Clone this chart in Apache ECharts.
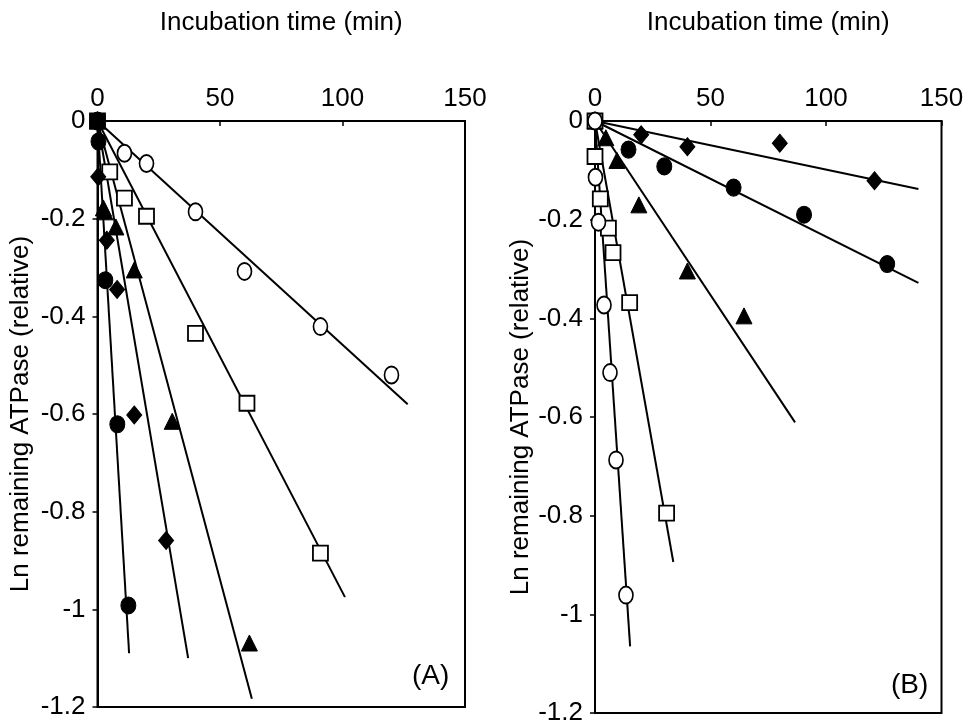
<!DOCTYPE html>
<html><head><meta charset="utf-8">
<script src="https://cdn.jsdelivr.net/npm/echarts@6/dist/echarts.min.js"></script>
<style>html,body{margin:0;padding:0;background:#fff}#c{width:973px;height:726px}</style>
</head><body><div id="c"></div>
<script>
// ---------- Panel A data (time in min, Ln remaining ATPase) ----------
const xTicks = [0, 50, 100, 150];
const yTicks = [0, -0.2, -0.4, -0.6, -0.8, -1, -1.2];

const tA_openCircle = [0, 11, 20, 40, 60, 91, 120];
const yA_openCircle = [0, -0.066, -0.087, -0.186, -0.308, -0.421, -0.52];
const fitA_openCircle = [[0, 0], [126.6, -0.58]];

const tA_openSquare = [0, 5, 11, 20, 40, 61, 91];
const yA_openSquare = [0, -0.104, -0.158, -0.195, -0.435, -0.578, -0.885];
const fitA_openSquare = [[0, 0], [101, -0.975]];

const tA_triangle = [0, 2.4, 3, 7.5, 15, 30.5, 62];
const yA_triangle = [0, -0.178, -0.186, -0.217, -0.305, -0.615, -1.069];
const fitA_triangle = [[0, 0], [63, -1.183]];

const tA_diamond = [0, 0.3, 3.8, 8, 15, 28];
const yA_diamond = [0, -0.114, -0.244, -0.345, -0.602, -0.859];
const fitA_diamond = [[0, 0], [37, -1.1]];

const tA_filledCircle = [0, 0.4, 3.2, 8.1, 12.6];
const yA_filledCircle = [0, -0.042, -0.326, -0.621, -0.992];
const fitA_filledCircle = [[0, 0], [12.9, -1.09]];

const tA_origin = [0];
const yA_origin = [0];

// ---------- Panel B data ----------
const tB_diamond = [0, 20, 40, 80, 121];
const yB_diamond = [0, -0.028, -0.052, -0.045, -0.121];
const fitB_diamond = [[0, 0], [140, -0.138]];

const tB_filledCircle = [0, 14.5, 30, 60, 90.5, 126.5];
const yB_filledCircle = [0, -0.058, -0.092, -0.135, -0.19, -0.29];
const fitB_filledCircle = [[0, 0], [140, -0.328]];

const tB_triangle = [0, 4.7, 9.5, 19, 40, 64.5];
const yB_triangle = [0, -0.034, -0.08, -0.17, -0.304, -0.395];
const fitB_triangle = [[0, 0], [86.6, -0.611]];

const tB_openSquare = [0, 0, 2.3, 5.8, 7.8, 15, 31];
const yB_openSquare = [0, -0.072, -0.158, -0.217, -0.267, -0.368, -0.795];
const fitB_openSquare = [[0, 0], [33.9, -0.894]];

const tB_openCircle = [0, 0.2, 1.5, 3.9, 6.5, 9.1, 13.4];
const yB_openCircle = [0, -0.114, -0.205, -0.373, -0.51, -0.687, -0.961];
const fitB_openCircle = [[0, 0], [15.2, -1.065]];

// ---------- build ----------
const FONT = 'Liberation Sans, Arial, sans-serif';
const zip = (t, y) => t.map((v, i) => [v, y[i]]);

function xAxisFor(gi) {
  return {
    gridIndex: gi, type: 'value', position: 'top',
    min: xTicks[0], max: xTicks[xTicks.length - 1], interval: xTicks[1] - xTicks[0],
    name: 'Incubation time (min)', nameLocation: 'middle', nameGap: 85,
    nameTextStyle: { fontFamily: FONT, fontSize: 26, color: '#000' },
    axisLine: { show: true, lineStyle: { color: '#000', width: 2 } },
    axisTick: { show: true, inside: true, length: 5, lineStyle: { color: '#000', width: 1.5 } },
    axisLabel: { fontFamily: FONT, fontSize: 26, color: '#000', margin: 9 },
    splitLine: { show: false }
  };
}
function yAxisFor(gi, gap) {
  return {
    gridIndex: gi, type: 'value',
    min: yTicks[yTicks.length - 1], max: yTicks[0], interval: 0.2,
    name: 'Ln remaining ATPase (relative)', nameLocation: 'middle', nameGap: gap, nameRotate: 90,
    nameTextStyle: { fontFamily: FONT, fontSize: 26, color: '#000' },
    axisLine: { show: true, onZero: false, lineStyle: { color: '#000', width: 2 } },
    axisTick: { show: true, inside: false, length: 5, lineStyle: { color: '#000', width: 1.5 } },
    axisLabel: { fontFamily: FONT, fontSize: 26, color: '#000', margin: 12,
      formatter: v => String(Math.round(v * 10) / 10) },
    splitLine: { show: false }
  };
}

function scatter(gi, data, symbol, filled, size) {
  return {
    type: 'scatter', xAxisIndex: gi, yAxisIndex: gi, data, symbol, symbolSize: size,
    z: 5, clip: false,
    itemStyle: filled ? { color: '#000', borderColor: '#000', borderWidth: 1, opacity: 1 }
                      : { color: '#fff', borderColor: '#000', borderWidth: 1.8, opacity: 1 }
  };
}
function fit(gi, data) {
  return {
    type: 'line', xAxisIndex: gi, yAxisIndex: gi, data, symbol: 'none', z: 3,
    lineStyle: { color: '#000', width: 2 }, silent: true
  };
}

const series = [
  fit(0, fitA_openCircle), fit(0, fitA_openSquare), fit(0, fitA_triangle),
  fit(0, fitA_diamond), fit(0, fitA_filledCircle),
  scatter(0, zip(tA_openCircle, yA_openCircle), 'circle', false, [14, 17]),
  scatter(0, zip(tA_openSquare, yA_openSquare), 'rect', false, [15, 15]),
  scatter(0, zip(tA_triangle, yA_triangle), 'triangle', true, [16, 16]),
  scatter(0, zip(tA_diamond, yA_diamond), 'diamond', true, [15, 18]),
  scatter(0, zip(tA_filledCircle, yA_filledCircle), 'circle', true, [15, 17]),
  scatter(0, zip(tA_origin, yA_origin), 'rect', true, [15, 15]),

  fit(1, fitB_diamond), fit(1, fitB_filledCircle), fit(1, fitB_triangle),
  fit(1, fitB_openSquare), fit(1, fitB_openCircle),
  scatter(1, zip(tB_diamond, yB_diamond), 'diamond', true, [15, 18]),
  scatter(1, zip(tB_filledCircle, yB_filledCircle), 'circle', true, [15, 17]),
  scatter(1, zip(tB_triangle, yB_triangle), 'triangle', true, [16, 16]),
  scatter(1, zip(tB_openSquare, yB_openSquare), 'rect', false, [15, 15]),
  scatter(1, zip(tB_openCircle, yB_openCircle), 'circle', false, [14, 17])
];

const chart = echarts.init(document.getElementById('c'), null, { renderer: 'canvas' });
chart.setOption({
  animation: false,
  backgroundColor: '#fff',
  grid: [
    { left: 97.5, top: 121, width: 367.5, height: 586, show: true, borderColor: '#000', borderWidth: 2, backgroundColor: 'transparent' },
    { left: 595, top: 121, width: 346.5, height: 595, show: true, borderColor: '#000', borderWidth: 2, backgroundColor: 'transparent' }
  ],
  xAxis: [xAxisFor(0), xAxisFor(1)],
  yAxis: [yAxisFor(0, 64), yAxisFor(1, 58)],
  graphic: [
    { type: 'text', left: 412, top: 662, style: { text: '(A)', font: '28px ' + FONT, fill: '#000' } },
    { type: 'text', left: 891, top: 671, style: { text: '(B)', font: '28px ' + FONT, fill: '#000' } }
  ],
  series
});
</script></body></html>
